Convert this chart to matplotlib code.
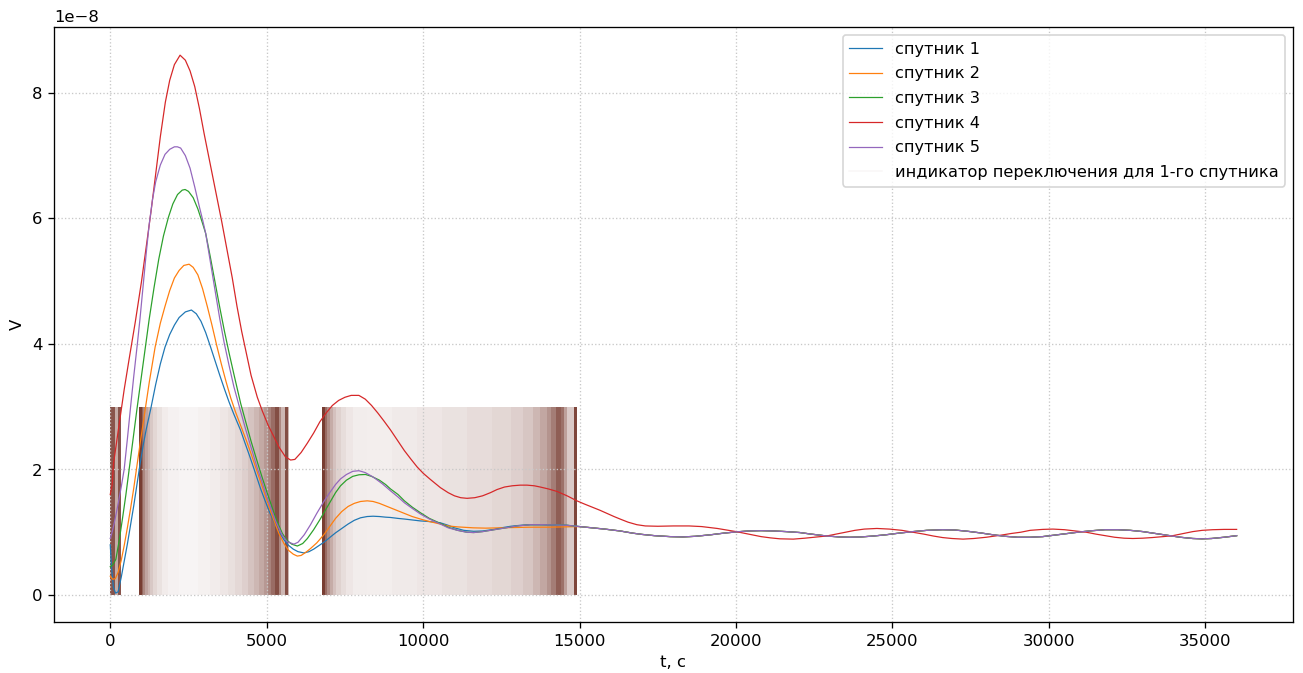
import numpy as np
import matplotlib
matplotlib.use("Agg")
import matplotlib.pyplot as plt

# time stamps [s] and potential V [1e-8] for each satellite
t_sat1 = [0, 40, 100, 170, 250, 350, 450, 550, 650, 750, 850, 950, 1050, 1150, 1300,
          1450, 1600, 1750, 1900, 2050, 2200, 2400, 2594, 2750, 2900, 3050, 3200,
          3350, 3500, 3650, 3800, 3950, 4169, 4300, 4450, 4600, 4807, 4950, 5100,
          5250, 5400, 5551, 5700, 5850, 6000, 6189, 6350, 6500, 6650, 6827, 7000,
          7200, 7400, 7600, 7800, 8000, 8212, 8400, 8600, 8800, 8956, 9200, 9400,
          9650, 9914, 10200, 10552, 10800, 11000, 11300, 11616, 11900, 12200, 12500,
          12800, 13100, 13425, 13800, 14200, 14600]
v_sat1 = [0.80, 0.45, 0.12, 0.03, 0.05, 0.28, 0.55, 0.82, 1.12, 1.42, 1.75, 2.08, 2.38, 2.64, 2.98,
          3.35, 3.68, 3.95, 4.15, 4.30, 4.42, 4.51, 4.54, 4.48, 4.36, 4.18, 3.96,
          3.73, 3.50, 3.28, 3.07, 2.88, 2.62, 2.43, 2.22, 2.00, 1.69, 1.50, 1.31,
          1.15, 1.00, 0.88, 0.79, 0.73, 0.69, 0.67, 0.69, 0.73, 0.78, 0.84, 0.91,
          0.99, 1.06, 1.13, 1.19, 1.23, 1.25, 1.255, 1.25, 1.24, 1.235, 1.22, 1.21,
          1.195, 1.18, 1.17, 1.15, 1.11, 1.07, 1.03, 1.015, 1.02, 1.04, 1.07,
          1.095, 1.11, 1.12, 1.12, 1.115, 1.11]

t_sat2 = [0, 80, 160, 250, 350, 450, 550, 650, 750, 850, 950, 1100, 1250, 1434, 1600,
          1750, 1900, 2050, 2200, 2350, 2519, 2650, 2800, 2950, 3100, 3250, 3400,
          3550, 3700, 3850, 4000, 4169, 4350, 4500, 4650, 4800, 4950, 5100, 5250,
          5400, 5550, 5700, 5850, 5978, 6100, 6250, 6400, 6600, 6827, 7000, 7200,
          7400, 7600, 7800, 8000, 8212, 8400, 8600, 8800, 8956, 9200, 9400, 9650,
          9914, 10200, 10552, 10800, 11100, 11600, 12000, 12500, 13000, 13400,
          14000, 14600]
v_sat2 = [0.30, 0.25, 0.26, 0.36, 0.55, 0.80, 1.08, 1.38, 1.70, 2.05, 2.40, 2.90, 3.40, 3.95, 4.33,
          4.60, 4.85, 5.05, 5.17, 5.25, 5.27, 5.22, 5.10, 4.88, 4.60, 4.30, 3.98,
          3.68, 3.40, 3.14, 2.92, 2.70, 2.46, 2.25, 2.03, 1.81, 1.59, 1.37, 1.16,
          0.97, 0.82, 0.71, 0.65, 0.62, 0.63, 0.68, 0.74, 0.83, 0.96, 1.08, 1.22,
          1.33, 1.41, 1.46, 1.49, 1.50, 1.49, 1.46, 1.42, 1.39, 1.34, 1.30, 1.25,
          1.21, 1.17, 1.13, 1.10, 1.085, 1.07, 1.065, 1.07, 1.075, 1.08,
          1.08, 1.085]

t_sat3 = [0, 80, 179, 280, 400, 500, 604, 700, 850, 1000, 1136, 1243, 1400, 1550, 1700,
          1860, 2000, 2150, 2300, 2392, 2500, 2650, 2800, 2950, 3050, 3200, 3350,
          3500, 3650, 3800, 3950, 4169, 4350, 4500, 4700, 4850, 5000, 5150, 5300,
          5500, 5650, 5800, 5978, 6150, 6300, 6500, 6700, 6827, 7000, 7200, 7360,
          7550, 7750, 7950, 8158, 8350, 8600, 8800, 8956, 9200, 9400, 9650, 9914,
          10200, 10552, 10800, 11100, 11400, 11616, 11900, 12200, 12600, 13000,
          13425, 13800, 14200, 14600]
v_sat3 = [0.45, 0.48, 0.57, 0.85, 1.25, 1.60, 2.00, 2.38, 2.95, 3.50, 4.00, 4.39, 4.90, 5.35, 5.72,
          6.02, 6.23, 6.38, 6.45, 6.46, 6.43, 6.33, 6.15, 5.92, 5.76, 5.38, 4.98,
          4.58, 4.20, 3.85, 3.52, 3.05, 2.72, 2.45, 2.12, 1.88, 1.65, 1.43, 1.21,
          0.98, 0.87, 0.81, 0.78, 0.82, 0.90, 1.04, 1.20, 1.31, 1.46, 1.63, 1.74,
          1.83, 1.89, 1.915, 1.92, 1.89, 1.83, 1.76, 1.69, 1.60, 1.50, 1.40, 1.31,
          1.22, 1.14, 1.08, 1.03, 1.00, 0.995, 1.01, 1.035, 1.07, 1.10,
          1.12, 1.12, 1.115, 1.11]

t_sat4 = [0, 60, 105, 250, 444, 600, 800, 1000, 1150, 1300, 1450, 1600, 1760, 1900, 2050,
          2231, 2400, 2550, 2700, 2850, 3000, 3200, 3400, 3562, 3750, 3900, 4050,
          4200, 4350, 4500, 4700, 4861, 5050, 5200, 5400, 5600, 5764, 5900, 6100,
          6300, 6500, 6700, 6900, 7100, 7300, 7500, 7700, 7946, 8150, 8350, 8550,
          8750, 8956, 9200, 9400, 9600, 9808, 10000, 10233, 10552, 10800, 11000,
          11200, 11404, 11650, 11900, 12150, 12362, 12600, 12850, 13100, 13319,
          13550, 13744, 14000, 14277, 14600, 14915, 15150, 15400, 15650, 15872,
          16100, 16295, 16550, 16830, 17100, 17500, 18000, 18500, 18900, 19400,
          20000, 20400, 20800, 21100, 21400, 21830, 22200, 22600, 22895, 23200,
          23500, 23800, 24100, 24500, 24900, 25300, 25660, 26000, 26300, 26600,
          26900, 27256, 27600, 28000, 28427, 28800, 29100, 29400, 29800, 30128,
          30500, 30850, 31193, 31500, 31800, 32100, 32400, 32681, 33000, 33300,
          33650, 33958, 34300, 34600, 34900, 35235, 35600, 36000]
v_sat4 = [1.60, 1.75, 2.10, 2.60, 3.27, 3.75, 4.35, 5.00, 5.55, 6.10, 6.70, 7.30, 7.85, 8.20, 8.45,
          8.60, 8.52, 8.35, 8.10, 7.75, 7.35, 6.85, 6.35, 5.95, 5.45, 5.05, 4.60,
          4.20, 3.85, 3.50, 3.15, 2.93, 2.70, 2.55, 2.35, 2.20, 2.15, 2.16, 2.27,
          2.42, 2.58, 2.76, 2.90, 3.02, 3.10, 3.15, 3.18, 3.18, 3.12, 3.02, 2.90,
          2.77, 2.63, 2.45, 2.30, 2.17, 2.04, 1.94, 1.84, 1.71, 1.63, 1.58,
          1.55, 1.54, 1.55, 1.58, 1.63, 1.68, 1.72, 1.74, 1.75, 1.75,
          1.74, 1.72, 1.69, 1.65, 1.58, 1.50, 1.45, 1.40, 1.35, 1.30,
          1.25, 1.21, 1.16, 1.12, 1.10, 1.095, 1.10, 1.10, 1.09, 1.06,
          1.01, 0.97, 0.93, 0.91, 0.895, 0.89, 0.905, 0.925, 0.94, 0.97,
          1.00, 1.03, 1.05, 1.06, 1.05, 1.03, 1.00, 0.97, 0.94, 0.915,
          0.90, 0.89, 0.90, 0.92, 0.95, 0.98, 1.00, 1.03, 1.045, 1.05,
          1.04, 1.02, 1.00, 0.97, 0.945, 0.92, 0.905, 0.90, 0.905, 0.915,
          0.93, 0.945, 0.98, 1.01, 1.03, 1.04, 1.045, 1.045]

t_sat5 = [0, 60, 150, 250, 350, 444, 550, 650, 750, 870, 950, 1050, 1150, 1243, 1350,
          1450, 1600, 1750, 1900, 2050, 2147, 2250, 2400, 2550, 2700, 2850, 2950,
          3050, 3200, 3350, 3500, 3640, 3800, 3950, 4169, 4350, 4500, 4700, 4850,
          5000, 5150, 5300, 5500, 5650, 5870, 6000, 6200, 6400, 6600, 6827, 7000,
          7200, 7360, 7550, 7750, 7946, 8150, 8400, 8700, 8956, 9200, 9400, 9650,
          9914, 10200, 10552, 10800, 11100, 11400, 11616, 11900, 12200, 12600,
          13000, 13425, 13800, 14200, 14600]
v_sat5 = [0.90, 1.00, 1.20, 1.45, 1.72, 2.00, 2.50, 3.00, 3.48, 4.02, 4.40, 4.92, 5.45, 5.90, 6.30,
          6.58, 6.85, 7.02, 7.10, 7.14, 7.14, 7.12, 7.00, 6.80, 6.50, 6.18, 5.98,
          5.76, 5.30, 4.85, 4.40, 4.02, 3.65, 3.32, 2.92, 2.60, 2.35, 2.02, 1.80,
          1.57, 1.36, 1.16, 0.95, 0.85, 0.81, 0.84, 0.96, 1.12, 1.30, 1.49, 1.62,
          1.76, 1.85, 1.92, 1.97, 1.98, 1.95, 1.88, 1.77, 1.66, 1.56, 1.47, 1.38,
          1.29, 1.21, 1.13, 1.07, 1.03, 1.00, 0.995, 1.01, 1.035, 1.07,
          1.10, 1.12, 1.12, 1.115, 1.11]

# satellites 1,2,3,5 settle onto the same oscillation after ~15000 s
t_tail = [15000, 15400, 15800, 16295, 16700, 17000, 17400, 17893, 18300, 18700,
          19200, 19600, 20000, 20400, 20800, 21200, 21600, 22036, 22400, 22895,
          23300, 23640, 24000, 24400, 24800, 25200, 25660, 26100, 26600, 27000,
          27400, 27800, 28200, 28600, 29000, 29400, 29800, 30200, 30600, 31000,
          31400, 31800, 32200, 32600, 33000, 33400, 33800, 34200, 34600, 34900,
          35200, 35600, 36000]
v_tail = [1.09, 1.07, 1.05, 1.02, 0.985, 0.965, 0.945, 0.93, 0.925, 0.935,
          0.96, 0.985, 1.005, 1.02, 1.025, 1.02, 1.01, 0.995, 0.97, 0.94,
          0.925, 0.92, 0.925, 0.94, 0.96, 0.985, 1.01, 1.03, 1.04, 1.035,
          1.015, 0.99, 0.96, 0.935, 0.92, 0.92, 0.93, 0.955, 0.98, 1.005,
          1.025, 1.04, 1.04, 1.03, 1.01, 0.98, 0.95, 0.92, 0.90, 0.895,
          0.90, 0.92, 0.945]

# switching indicator for satellite 1: [start, end) intervals and opacity
ind_start = [0, 150, 250,
             920, 1000, 1060, 1120, 1200, 1280, 1380, 1500, 1650, 1850, 2200, 2800,
             3200, 3500, 3750, 4000, 4200, 4400, 4600, 4750, 4900, 5050, 5150, 5250,
             5380, 5450, 5600, 5680,
             6776, 6860, 6940, 7020, 7120, 7230, 7360, 7520, 7750, 8200, 9000, 9800,
             10600, 11400, 12200, 12800, 13200, 13500, 13750, 13950, 14100, 14250,
             14400, 14500, 14600, 14820]
ind_end = [150, 250, 340,
           1000, 1060, 1120, 1200, 1280, 1380, 1500, 1650, 1850, 2200, 2800, 3200,
           3500, 3750, 4000, 4200, 4400, 4600, 4750, 4900, 5050, 5150, 5250, 5380,
           5450, 5600, 5680, 5710,
           6860, 6940, 7020, 7120, 7230, 7360, 7520, 7750, 8200, 9000, 9800, 10600,
           11400, 12200, 12800, 13200, 13500, 13750, 13950, 14100, 14250, 14400,
           14500, 14600, 14820, 14930]
ind_alpha = [0.72, 0.35, 0.72,
             0.82, 0.65, 0.50, 0.38, 0.30, 0.23, 0.17, 0.12, 0.08, 0.055, 0.045, 0.06,
             0.08, 0.10, 0.13, 0.16, 0.20, 0.25, 0.30, 0.36, 0.43, 0.52, 0.62, 0.75,
             0.50, 0.30, 0.75, 0.30,
             0.82, 0.62, 0.47, 0.35, 0.26, 0.19, 0.14, 0.10, 0.075, 0.07, 0.085, 0.10,
             0.12, 0.145, 0.17, 0.20, 0.24, 0.30, 0.37, 0.45, 0.55, 0.68,
             0.60, 0.40, 0.22, 0.78]
IND_LEVEL = 3.0
IND_COLOR = "#5a1205"
SCALE = 1e-8

labels = ["спутник 1", "спутник 2", "спутник 3", "спутник 4", "спутник 5"]


def main():
    series = [
        (t_sat1 + t_tail, v_sat1 + v_tail),
        (t_sat2 + t_tail, v_sat2 + v_tail),
        (t_sat3 + t_tail, v_sat3 + v_tail),
        (t_sat4, v_sat4),
        (t_sat5 + t_tail, v_sat5 + v_tail),
    ]

    dpi = 1303 / 11
    fig, ax = plt.subplots(figsize=(11, 5.682), dpi=dpi)
    fig.subplots_adjust(left=0.0414, right=0.9923, top=0.9599, bottom=0.0758)

    for (t, v), lab in zip(series, labels):
        ax.plot(t, np.array(v) * SCALE, lw=0.75, label=lab)

    starts = np.array(ind_start, dtype=float)
    widths = np.array(ind_end, dtype=float) - starts
    for x0, w, a in zip(starts, widths, ind_alpha):
        ax.bar(x0, IND_LEVEL * SCALE, width=w, align="edge",
               color=IND_COLOR, alpha=a, linewidth=0, zorder=1)
    ax.plot([], [], color=IND_COLOR, alpha=0.03, lw=1,
            label="индикатор переключения для 1-го спутника")

    ax.set_xlim(-1800, 37800)
    ax.set_ylim(-0.43e-8, 9.05e-8)
    ax.grid(True, ls=":", color="#c8c8c8", lw=0.8)
    ax.set_xlabel("t, с")
    ax.set_ylabel("V")
    ax.legend(loc="upper right", fontsize=9.85, labelspacing=0.6)

    fig.savefig("out.png", dpi=dpi)
    plt.close(fig)


if __name__ == "__main__":
    main()
